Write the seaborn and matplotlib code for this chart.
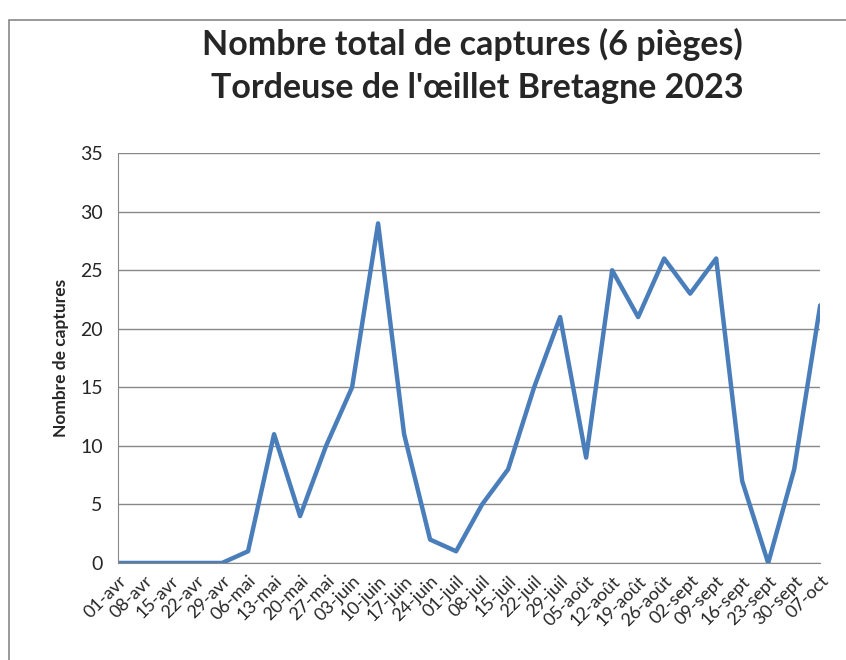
import matplotlib
matplotlib.use("Agg")
import matplotlib.pyplot as plt
import seaborn as sns
import pandas as pd
from matplotlib.patches import Rectangle

semaines = ["01-avr", "08-avr", "15-avr", "22-avr", "29-avr", "06-mai", "13-mai",
            "20-mai", "27-mai", "03-juin", "10-juin", "17-juin", "24-juin", "01-juil",
            "08-juil", "15-juil", "22-juil", "29-juil", "05-août", "12-août", "19-août",
            "26-août", "02-sept", "09-sept", "16-sept", "23-sept", "30-sept", "07-oct"]
captures = [0, 0, 0, 0, 0, 1, 11, 4, 10, 15, 29, 11, 2, 1, 5, 8, 15, 21, 9, 25,
            21, 26, 23, 26, 7, 0, 8, 22]
y_ticks = [0, 5, 10, 15, 20, 25, 30, 35]

df = pd.DataFrame({"semaine": semaines, "captures": captures})
df["pos"] = range(len(df))

sns.set_style("white")
plt.rcParams["font.family"] = ["Lato", "DejaVu Sans"]

fig = plt.figure(figsize=(8.46, 6.6), dpi=100)
ax = fig.add_axes([0.1395, 0.147, 0.83, 0.621])

sns.lineplot(data=df, x="pos", y="captures", ax=ax, color="#4A7EBB", linewidth=3.2)

ax.set_xlim(0, len(semaines) - 1)
ax.set_ylim(0, 35)
ax.set_yticks(y_ticks)
ax.set_yticklabels([str(v) for v in y_ticks], fontsize=14)
ax.set_xticks(df["pos"])
ax.set_xticklabels(semaines, rotation=45, ha="right", rotation_mode="anchor", fontsize=13)
ax.tick_params(axis="x", length=5, color="#888888", direction="out", pad=2)
ax.tick_params(axis="y", length=5, color="#888888", direction="out", pad=6)
ax.yaxis.grid(True, color="#888888", linewidth=1)
ax.set_axisbelow(True)
for s in ["top", "right"]:
    ax.spines[s].set_visible(False)
ax.spines["left"].set_color("#888888")
ax.spines["bottom"].set_color("#888888")
ax.set_xlabel("")
ax.set_ylabel("Nombre de captures", fontsize=12.5, fontweight="bold", labelpad=8)

fig.text(0.558, 0.932, "Nombre total de captures (6 pièges)", ha="center", va="center",
         fontsize=24.5, fontweight="bold")
fig.text(0.564, 0.866, "Tordeuse de l'œillet Bretagne 2023", ha="center", va="center",
         fontsize=24.5, fontweight="bold")

fig.patches.append(Rectangle((0.011, -0.01), 1.0, 0.98, transform=fig.transFigure,
                             fill=False, edgecolor="#888888", linewidth=1.2))

fig.savefig("out.png", dpi=100)
